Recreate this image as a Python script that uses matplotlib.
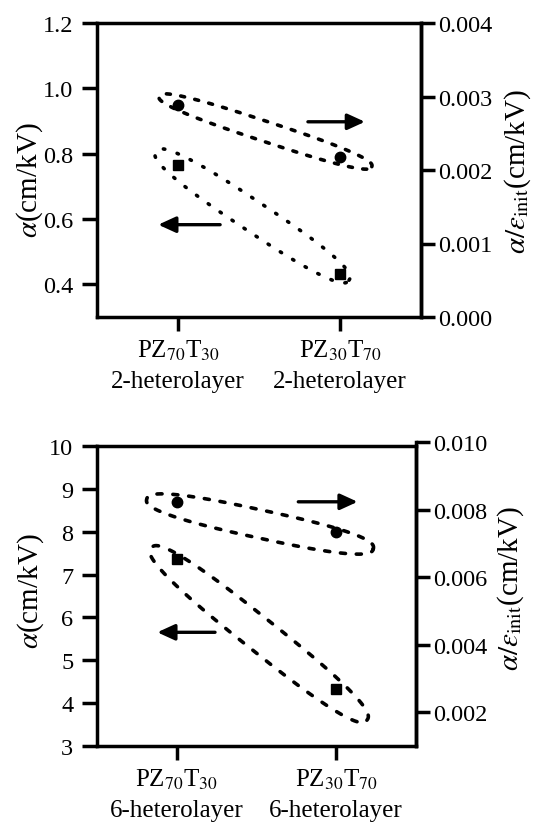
import numpy as np
import matplotlib.pyplot as plt

plt.rcParams['font.family'] = ['Liberation Serif', 'DejaVu Serif']
plt.rcParams['mathtext.fontset'] = 'stix'

# 2-heterolayer panel
cats_2 = [r"PZ$_{70}$T$_{30}$" + "\n2-heterolayer", r"PZ$_{30}$T$_{70}$" + "\n2-heterolayer"]
alpha_2 = [0.766, 0.431]           # alpha (cm/kV), squares, left axis
alpha_eps_2 = [0.00289, 0.00218]   # alpha/eps_init, circles, right axis

# 6-heterolayer panel
cats_6 = [r"PZ$_{70}$T$_{30}$" + "\n6-heterolayer", r"PZ$_{30}$T$_{70}$" + "\n6-heterolayer"]
alpha_6 = [7.36, 4.33]
alpha_eps_6 = [0.00823, 0.00733]

W_PX, H_PX = 540, 829
fig = plt.figure(figsize=(W_PX / 100, H_PX / 100), dpi=100)


def px_box(l, r, t, b):
    return [l / W_PX, 1 - b / H_PX, (r - l) / W_PX, (b - t) / H_PX]


def oval(ax, cx, cy, a, b, ang, dashes, n=2.6):
    # cx, cy in axes fraction; a, b in pixels; ang clockwise in degrees
    pos = ax.get_position()
    w, h = pos.width * W_PX, pos.height * H_PX
    t = np.linspace(0, 2 * np.pi, 600)
    phi = np.deg2rad(-ang)
    c, s = np.cos(t), np.sin(t)
    ex = a * np.sign(c) * np.abs(c) ** (2 / n)
    ey = b * np.sign(s) * np.abs(s) ** (2 / n)
    x = cx + (ex * np.cos(phi) - ey * np.sin(phi)) / w
    y = cy + (ex * np.sin(phi) + ey * np.cos(phi)) / h
    ax.plot(x, y, transform=ax.transAxes, color='k', lw=2.6,
            dashes=dashes, dash_capstyle='round', clip_on=False)


def arrow(ax, x0, x1, y):
    ax.annotate('', xy=(x1, y), xytext=(x0, y), xycoords='axes fraction',
                arrowprops=dict(arrowstyle='-|>,head_length=0.7,head_width=0.32',
                                lw=2.4, color='k', mutation_scale=15,
                                shrinkA=0, shrinkB=0))


def panel(box, rbox, cats, left_vals, right_vals, ylim, yticks, ylabels,
          rlim, rticks, rlabels, lab_y, rlab_y):
    ax = fig.add_axes(box)
    axr = fig.add_axes(rbox)
    axr.patch.set_visible(False)
    for s in ['left', 'top', 'bottom']:
        axr.spines[s].set_visible(False)
    for s in ax.spines.values():
        s.set_linewidth(2.5)
    axr.spines['right'].set_linewidth(2.5)

    x = np.arange(len(cats))
    ax.set_xlim(-0.5, 1.5)
    axr.set_xlim(-0.5, 1.5)
    ax.set_ylim(*ylim)
    axr.set_ylim(*rlim)

    ax.plot(x, left_vals, 's', color='k', ms=7, clip_on=False)
    axr.plot(x, right_vals, 'o', color='k', ms=7.5, clip_on=False)

    ax.set_xticks(x)
    ax.set_xticklabels(cats, fontsize=18, linespacing=1.45)
    ax.set_yticks(yticks)
    ax.set_yticklabels(ylabels, fontsize=17.5)
    ax.tick_params(axis='x', direction='out', length=10, width=2.5, pad=5)
    ax.tick_params(axis='y', direction='out', length=11, width=2.5, pad=6)
    ax.tick_params(right=False, top=False)

    axr.set_xticks([])
    axr.yaxis.tick_right()
    axr.yaxis.set_label_position('right')
    axr.set_yticks(rticks)
    axr.set_yticklabels(rlabels, fontsize=17.5)
    axr.tick_params(axis='y', direction='out', length=10, width=2.5, pad=2)

    ax.set_ylabel(r"$\alpha$(cm/kV)", fontsize=21)
    ax.yaxis.set_label_coords(-0.16, lab_y)
    axr.set_ylabel(r"$\alpha/\varepsilon_{\rm init}$(cm/kV)", fontsize=21)
    axr.yaxis.set_label_coords(1.25, rlab_y)
    return ax


# top panel
ax1 = panel(px_box(97, 421, 24, 318), px_box(97, 421, 24, 318), cats_2,
            alpha_2, alpha_eps_2, (0.3, 1.2), [0.4, 0.6, 0.8, 1.0, 1.2],
            ['0.4', '0.6', '0.8', '1.0', '1.2'],
            (0.0, 0.004), [0, 0.001, 0.002, 0.003, 0.004],
            ['0.000', '0.001', '0.002', '0.003', '0.004'], 0.47, 0.5)
oval(ax1, 0.520, 0.631, 112, 10, 18.3, (1.1, 2.9))
oval(ax1, 0.480, 0.344, 116, 15, 33.7, (0.4, 3.6))
arrow(ax1, 0.651, 0.827, 0.664)
arrow(ax1, 0.380, 0.189, 0.314)

# bottom panel
ax2 = panel(px_box(97, 416, 447, 747), px_box(97, 416, 443, 747), cats_6,
            alpha_6, alpha_eps_6, (3, 10), [3, 4, 5, 6, 7, 8, 9, 10],
            ['3', '4', '5', '6', '7', '8', '9', '10'],
            (0.001, 0.010), [0.002, 0.004, 0.006, 0.008, 0.010],
            ['0.002', '0.004', '0.006', '0.008', '0.010'], 0.52, 0.52)
oval(ax2, 0.511, 0.740, 116, 14, 12.3, (1.4, 3.0))
oval(ax2, 0.508, 0.373, 138, 16.5, 38.6, (1.5, 3.3))
arrow(ax2, 0.631, 0.817, 0.814)
arrow(ax2, 0.370, 0.189, 0.379)

fig.savefig('out.png', dpi=100)
